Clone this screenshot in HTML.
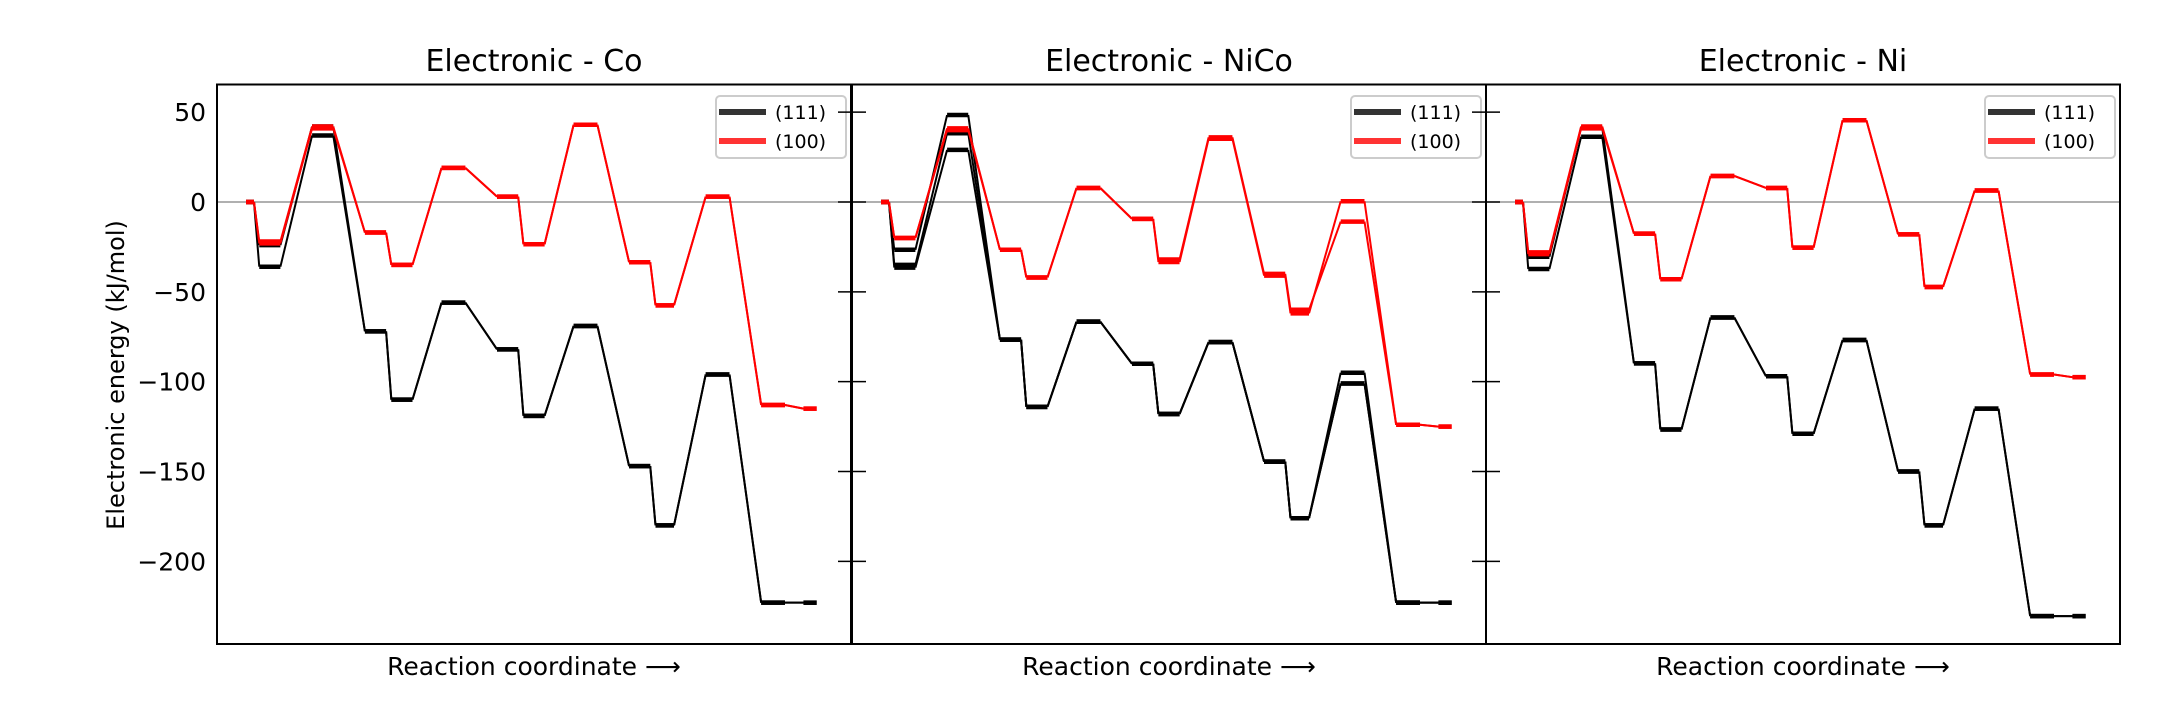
<!DOCTYPE html>
<html><head><meta charset="utf-8"><style>
body{margin:0;background:#fff}
svg text{font-family:"DejaVu Sans","Liberation Sans",sans-serif}
</style></head><body>
<svg id="chart" width="2160" height="720" viewBox="0 0 2160 720" xmlns="http://www.w3.org/2000/svg"></svg>
<script>
const panelTitles = ["Electronic - Co", "Electronic - NiCo", "Electronic - Ni"];
const stateStart = [1.1,1.6,3.6,5.6,6.6,8.5,10.6,11.6,13.5,15.6,16.6,18.5,20.6,22.2];
const stateEnd   = [1.4,2.4,4.4,6.4,7.4,9.4,11.4,12.4,14.4,16.4,17.3,19.4,21.5,22.7];
const yTicks = [50,0,-50,-100,-150,-200];
const yTickLabels = ["50","0","\u221250","\u2212100","\u2212150","\u2212200"];
const coBlackA = [0,-24,42,-72,-110,-56,-82,-119,-69,-147,-180,-96,-223,-223];
const coBlackB = [0,-36,37,-72,-110,-56,-82,-119,-69,-147,-180,-96,-223,-223];
const coRedA   = [0,-23,41,-17,-35,19,3,-23.5,43,-33.5,-57.5,3,-113,-115];
const coRedB   = [0,-22,42,-17,-35,19,3,-23.5,43,-33.5,-57.5,3,-113,-115];
const nicoBlackA = [0,-26.6,48.4,-76.6,-114,-66.6,-90,-118,-78,-144.5,-176,-95,-223,-223];
const nicoBlackB = [0,-36.5,29,-76.6,-114,-66.6,-90,-118,-78,-144.5,-176,-101,-223,-223];
const nicoBlackC = [0,-35,38.3,-76.6,-114,-66.6,-90,-118,-78,-144.5,-176,-101,-223,-223];
const nicoRedA   = [0,-20,41,-26.6,-42,7.8,-9.4,-33.4,35.2,-41,-62,0.4,-124,-125];
const nicoRedB   = [0,-20,40,-26.6,-42,7.8,-9.4,-32,36,-40,-60,-10.9,-124,-125];
const niBlackA = [0,-30.5,41.4,-89.8,-126.6,-64.3,-97,-129,-76.8,-150,-180,-115,-230.5,-230.5];
const niBlackB = [0,-37.3,36.3,-89.8,-126.6,-64.3,-97,-129,-76.8,-150,-180,-115,-230.5,-230.5];
const niRedA   = [0,-29,41,-17.6,-43,14.5,7.8,-25.4,45.5,-18,-47.3,6.4,-96,-97.5];
const niRedB   = [0,-28,42,-17.6,-43,14.5,7.8,-25.4,45.5,-18,-47.3,6.4,-96,-97.5];
const panelSeries = [
  [[coBlackA,"#000"],[coBlackB,"#000"],[coRedA,"#f00"],[coRedB,"#f00"]],
  [[nicoBlackA,"#000"],[nicoBlackB,"#000"],[nicoBlackC,"#000"],[nicoRedA,"#f00"],[nicoRedB,"#f00"]],
  [[niBlackA,"#000"],[niBlackB,"#000"],[niRedA,"#f00"],[niRedB,"#f00"]]
];
const legendLabels = ["(111)","(100)"];

const NS="http://www.w3.org/2000/svg";
const svg=document.getElementById('chart');
const plotTop=84.5,plotBottom=644,yMax=65.4,yMin=-246;
const panelLeft=[217,852,1486],panelW=634;
function Y(v){return plotTop+(yMax-v)/(yMax-yMin)*(plotBottom-plotTop);}
function mk(tag,attrs,parent){const e=document.createElementNS(NS,tag);for(const k in attrs)e.setAttribute(k,attrs[k]);(parent||svg).appendChild(e);return e;}

panelTitles.forEach((t,p)=>{
  const L=panelLeft[p];
  const X=u=>L+u/24*panelW;
  const g=mk('g',{});
  
  
  mk('line',{x1:L,x2:L+panelW,y1:Y(0),y2:Y(0),stroke:'#808080','stroke-width':1.2},g);
  panelSeries[p].forEach(([vals,col],si)=>{
    const sg=mk('g',{},g);
    
    
    for(let i=0;i<vals.length;i++){
      if(i>0){const c=mk('line',{x1:X(stateEnd[i-1]),y1:Y(vals[i-1]),x2:X(stateStart[i]),y2:Y(vals[i]),stroke:col,'stroke-width':2},sg);
        
        }
      const s=mk('line',{x1:X(stateStart[i]),y1:Y(vals[i]),x2:X(stateEnd[i]),y2:Y(vals[i]),stroke:col,'stroke-width':4.5},sg);
      
      
    }
  });
  const fr=mk('rect',{x:L,y:plotTop,width:panelW,height:plotBottom-plotTop,fill:'none',stroke:'#000','stroke-width':2},g);
  
  
  yTicks.forEach((v,i)=>{
    if(p>0){const tk=mk('line',{x1:L-14,x2:L+14,y1:Y(v),y2:Y(v),stroke:'#000','stroke-width':1.5},g);
      
      }
    else{const tl=mk('text',{x:L-11,y:Y(v)+9,'font-size':25,'text-anchor':'end'},g);tl.textContent=yTickLabels[i];
      
      }
  });
  const tt=mk('text',{x:L+panelW/2,y:71,'font-size':30,'text-anchor':'middle'},g);tt.textContent=t;
  
  
  const xl=mk('text',{x:L+panelW/2,y:675,'font-size':25,'text-anchor':'middle'},g);xl.textContent="Reaction coordinate \u27F6";
  
  
  const lg=mk('g',{},g);
  
  
  mk('rect',{x:L+499,y:96,width:130,height:62,rx:4,fill:'#fff','fill-opacity':0.85,stroke:'#ccc','stroke-width':2},lg);
  ['#333','#f33'].forEach((c,i)=>{
    mk('line',{x1:L+502,x2:L+549,y1:112+i*29,y2:112+i*29,stroke:c,'stroke-width':6},lg);
    const lt=mk('text',{x:L+558,y:119+i*29,'font-size':19},lg);lt.textContent=legendLabels[i];
    
    
  });
});
const yl=mk('text',{x:0,y:0,'font-size':24,'text-anchor':'middle',transform:'translate(124,375) rotate(-90)'});
yl.textContent="Electronic energy (kJ/mol)";


</script>
</body></html>
